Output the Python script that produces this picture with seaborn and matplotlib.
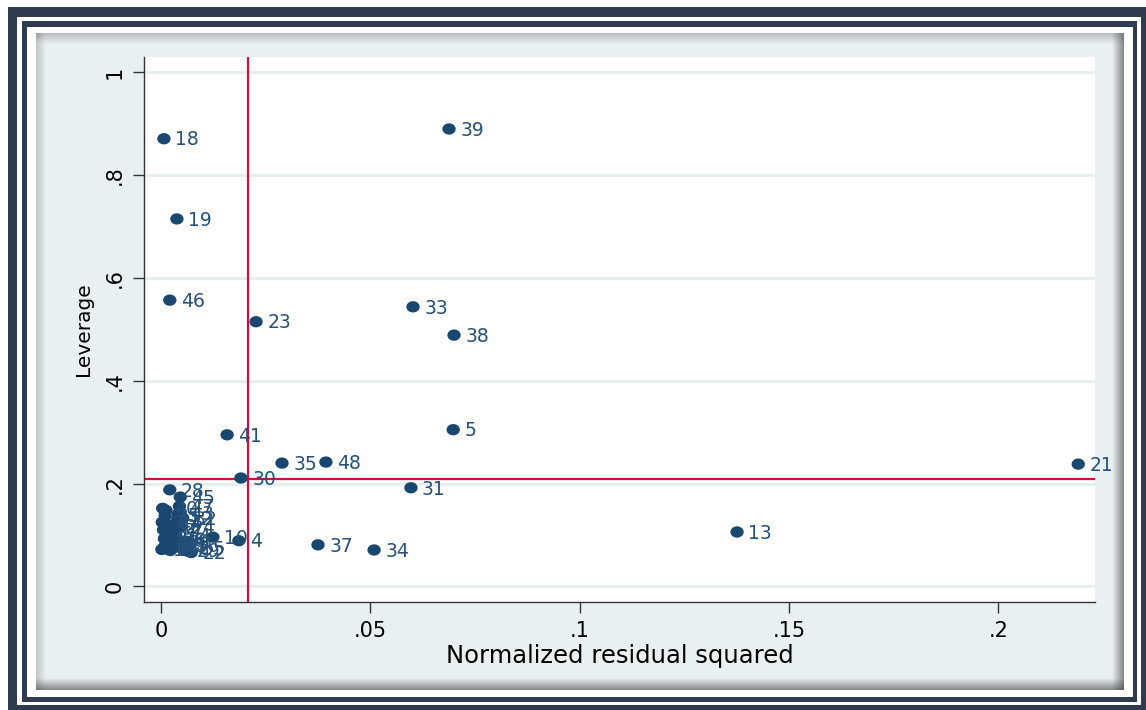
import numpy as np
import pandas as pd
import matplotlib
matplotlib.use("Agg")
import matplotlib.pyplot as plt
from matplotlib.patches import Rectangle
from matplotlib.path import Path
from matplotlib.colors import to_rgb
import seaborn as sns

# Observation numbers with their normalized squared residual and leverage
obs = [18, 39, 19, 46, 23, 33, 38, 41, 5, 35, 48, 30, 31, 21, 13, 37, 34, 4, 10, 28,
       45, 47, 43, 32, 12, 24, 44, 1, 2, 3, 6, 7, 8, 9, 11, 14, 15, 16, 17, 20,
       22, 25, 26, 27, 29, 36, 40, 42]
resid_sq = [0.0007, 0.0688, 0.0038, 0.0021, 0.0227, 0.0602, 0.0700, 0.0158, 0.0698, 0.0289,
            0.0394, 0.0191, 0.0597, 0.2191, 0.1376, 0.0375, 0.0509, 0.0186, 0.0124, 0.0021,
            0.0046, 0.0044, 0.0042, 0.0052, 0.0040, 0.0046, 0.0015, 0.0012, 0.0030, 0.0008,
            0.0050, 0.0003, 0.0022, 0.0061, 0.0009, 0.0035, 0.0068, 0.0002, 0.0016, 0.0040,
            0.0072, 0.0010, 0.0026, 0.0006, 0.0058, 0.0020, 0.0004, 0.0033]
leverage = [0.871, 0.890, 0.715, 0.557, 0.515, 0.544, 0.489, 0.295, 0.305, 0.240,
            0.242, 0.211, 0.192, 0.238, 0.106, 0.081, 0.071, 0.089, 0.096, 0.188,
            0.174, 0.156, 0.142, 0.133, 0.132, 0.116, 0.121, 0.148, 0.118, 0.093,
            0.080, 0.125, 0.070, 0.088, 0.078, 0.100, 0.075, 0.072, 0.105, 0.086,
            0.066, 0.138, 0.090, 0.110, 0.070, 0.083, 0.152, 0.076]

x_ticks = [0, 0.05, 0.1, 0.15, 0.2]
x_tick_labels = ["0", ".05", ".1", ".15", ".2"]
y_ticks = [0, 0.2, 0.4, 0.6, 0.8, 1.0]
y_tick_labels = ["0", ".2", ".4", ".6", ".8", "1"]

n_obs = 48
n_params = 10
mean_resid_sq = 1 / n_obs
mean_leverage = n_params / n_obs

NAVY = "#1a476f"
LABEL = "#24507a"
RED = "#c8143c"
FRAME = "#2f3b4e"
PANEL = "#e9f0f2"
GRID = "#e6eef0"

df = pd.DataFrame({"obs": obs, "resid_sq": resid_sq, "leverage": leverage})

W, H = 1146, 710
fig = plt.figure(figsize=(W / 100, H / 100), dpi=100)
fig.patch.set_facecolor("white")

# Decorative frame drawn in pixel space
bg = fig.add_axes([0, 0, 1, 1])
bg.set_autoscale_on(False)
bg.set_xlim(0, W)
bg.set_ylim(H, 0)
bg.axis("off")


def box(x0, y0, x1, y1, color):
    bg.add_patch(Rectangle((x0, y0), x1 - x0, y1 - y0, facecolor=color, lw=0, zorder=1))


def ramp(x0, y0, x1, y1, a0, a1, vertical, color="#404040"):
    n = 64
    a = np.linspace(a0, a1, n)
    if vertical:
        rgba = np.zeros((n, 1, 4))
        rgba[:, 0, 3] = a
    else:
        rgba = np.zeros((1, n, 4))
        rgba[0, :, 3] = a
    rgba[..., :3] = to_rgb(color)
    bg.imshow(rgba, extent=(x0, x1, y1, y0), aspect="auto",
              interpolation="bilinear", origin="upper", zorder=3)


box(8, 7, W, H, FRAME)
box(17, 17, 1141, 705, "white")
box(22, 21, 1137, 702, FRAME)
box(27, 27, 1133, 697, "white")
box(36, 33, 1124, 690, PANEL)
ramp(36, 33, 1124, 44, 0.30, 0.0, True)
ramp(36, 33, 46, 690, 0.25, 0.0, False)
ramp(36, 678, 1124, 690, 0.0, 0.6, True)
ramp(1112, 33, 1124, 690, 0.0, 0.6, False)
bg.set_xlim(0, W)
bg.set_ylim(H, 0)

# Main plot region
left, right, top, bottom = 144, 1095, 57, 602
ax = fig.add_axes([left / W, 1 - bottom / H, (right - left) / W, (bottom - top) / H])
ax.set_facecolor("white")

ax.axvline(mean_resid_sq, color=RED, lw=1.6, zorder=2)
ax.axhline(mean_leverage, color=RED, lw=1.6, zorder=2)

# Slightly wide elliptical dot
t = np.linspace(0, 2 * np.pi, 60)
dot = Path(np.column_stack([1.18 * np.cos(t), np.sin(t)]), closed=True)

sns.scatterplot(data=df, x="resid_sq", y="leverage", ax=ax, color=NAVY,
                marker=dot, s=92, linewidth=0, edgecolor="none", zorder=3,
                legend=False)

label_fs = 13.5
for o, xv, yv in zip(obs, resid_sq, leverage):
    ax.annotate(str(o), (xv, yv), xytext=(8, -0.36 * label_fs),
                textcoords="offset points", ha="left", va="baseline",
                fontsize=label_fs, color=LABEL, zorder=4)

ax.set_xlim(-0.00406, 0.2231)
ax.set_ylim(-0.0302, 1.030)
ax.set_xticks(x_ticks)
ax.set_xticklabels(x_tick_labels)
ax.set_yticks(y_ticks)
ax.set_yticklabels(y_tick_labels, rotation=90, va="center")

ax.yaxis.grid(True, color=GRID, lw=2.2)
ax.xaxis.grid(False)
ax.set_axisbelow(True)

for side in ["top", "right"]:
    ax.spines[side].set_visible(False)
for side in ["left", "bottom"]:
    ax.spines[side].set_color("#333333")
    ax.spines[side].set_linewidth(1.0)

ax.tick_params(axis="both", direction="out", length=8, width=1,
               color="#333333", labelsize=15, pad=6, labelcolor="black")

ax.set_xlabel("Normalized residual squared", fontsize=17.5, va="baseline")
ax.xaxis.set_label_coords(0.5, (bottom - 663) / (bottom - top))
ax.set_ylabel("Leverage", fontsize=14.5)
ax.yaxis.set_label_coords((93 - left) / (right - left), 0.5)

fig.savefig("out.png", dpi=100, facecolor=fig.get_facecolor())
